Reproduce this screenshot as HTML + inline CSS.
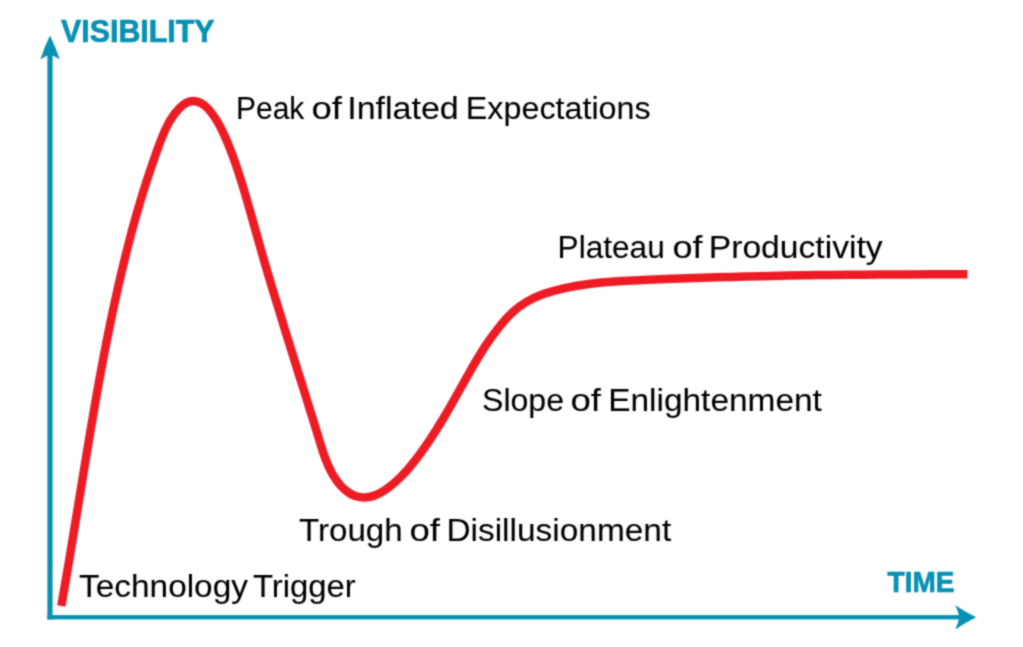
<!DOCTYPE html>
<html lang="en"><head><meta charset="utf-8"><title>Hype Cycle</title>
<style>
html,body{margin:0;padding:0;background:#fff;}
body{width:1023px;height:647px;overflow:hidden;font-family:"Liberation Sans",sans-serif;}
svg{display:block;position:absolute;left:0;top:0;}
.lbl text{font-family:"Liberation Sans",sans-serif;font-size:32.2px;fill:#000;stroke:#000;stroke-width:0.1px;}
.ax text{font-family:"Liberation Sans",sans-serif;font-weight:bold;fill:#0791b3;stroke:#0791b3;stroke-width:0.7px;stroke-linejoin:round;}
</style></head><body>
<svg width="1023" height="647" viewBox="0 0 1023 647">
<defs><filter id="soft" x="-2%" y="-2%" width="104%" height="104%" color-interpolation-filters="sRGB"><feConvolveMatrix order="3" kernelMatrix="1 3 1 3 9 3 1 3 1" edgeMode="duplicate" preserveAlpha="false"/></filter></defs>
<rect width="1023" height="647" fill="#ffffff"/>
<g filter="url(#soft)">
<g fill="#0791b3">
<rect x="47.4" y="54" width="5.2" height="565.4"/>
<rect x="47.4" y="615.1" width="913" height="4.3"/>
<path d="M50 35.4 Q55.7 47 59.8 59.4 Q54.6 56 50 54.8 Q45.4 56 40.3 59.4 Q44.3 47 50 35.4 Z"/>
<path d="M976.2 617.3 Q965.5 612 955.2 605.2 Q958.4 611.5 959.3 617.3 Q958.4 623 955.2 629.4 Q965.5 622.6 976.2 617.3 Z"/>
</g>
<g class="ax">
<text x="61.08" y="42.3" font-size="30.5" textLength="153.44" lengthAdjust="spacingAndGlyphs">VISIBILITY</text>
<text x="887.57" y="592.2" font-size="28.8" textLength="66.91" lengthAdjust="spacingAndGlyphs">TIME</text>
</g>
<path d="M61.3 605.9 C63.0 596.2 64.7 586.5 66.4 576.8 C68.1 567.0 69.7 557.3 71.3 547.6 C72.9 537.8 74.5 528.0 76.1 518.3 C77.7 508.5 79.3 498.7 80.9 488.9 C82.5 479.1 84.1 469.4 85.7 459.6 C87.3 449.9 88.9 440.2 90.5 430.6 C92.1 420.9 93.8 411.3 95.5 401.7 C97.1 392.1 98.9 382.5 100.6 373.0 C102.4 363.5 104.2 354.0 106.0 344.5 C107.9 335.0 109.8 325.6 111.8 316.1 C113.7 306.7 115.8 297.4 117.9 288.0 C120.0 278.7 122.2 269.4 124.5 260.1 C126.7 250.9 129.1 241.7 131.5 232.5 C134.0 223.4 136.5 214.3 139.2 205.3 C141.8 196.3 144.6 187.4 147.5 178.5 C150.4 169.7 153.4 160.9 156.5 152.1 C159.3 144.5 162.0 136.8 165.4 129.5 C167.8 124.2 170.6 119.2 174.2 114.4 C176.8 110.9 179.8 107.4 183.2 104.8 C185.1 103.4 187.1 102.3 189.2 101.7 C191.1 101.2 193.1 101.0 195.0 101.2 C197.0 101.4 199.0 102.0 200.8 103.0 C203.6 104.4 206.1 106.6 208.3 109.0 C212.2 113.2 215.2 117.9 218.0 122.6 C221.6 128.9 224.6 135.5 227.4 142.2 C230.7 150.2 233.7 158.2 236.5 166.4 C239.4 175.0 242.1 183.6 244.7 192.4 C247.4 201.5 250.0 210.8 252.6 220.0 C255.2 229.5 257.9 238.9 260.6 248.3 C263.2 257.6 266.0 267.0 268.7 276.3 C271.5 285.7 274.3 295.0 277.2 304.3 C280.0 313.7 282.9 323.1 285.8 332.5 C288.7 341.9 291.7 351.3 294.6 360.7 C297.6 370.1 300.5 379.6 303.5 389.0 C306.4 398.4 309.4 407.8 312.3 417.3 C315.2 426.6 318.0 436.0 320.9 445.3 C323.1 452.5 325.5 459.6 328.5 466.3 C330.8 471.5 333.5 476.4 336.9 481.0 C339.5 484.6 342.6 488.1 346.2 490.9 C348.9 493.1 352.0 494.8 355.2 495.9 C358.2 496.9 361.3 497.5 364.4 497.5 C367.6 497.5 370.6 496.9 373.7 495.9 C377.8 494.5 381.7 492.4 385.5 489.8 C390.8 486.2 395.7 481.9 400.2 477.5 C405.4 472.4 410.2 466.8 414.6 461.1 C419.8 454.5 424.7 447.6 429.4 440.6 C434.3 433.2 439.0 425.7 443.6 418.0 C448.4 410.0 453.0 401.9 457.5 393.8 C462.2 385.5 466.8 377.1 471.5 368.8 C475.9 361.2 480.4 353.7 485.1 346.4 C489.5 339.7 494.2 333.1 499.3 326.8 C503.5 321.5 508.0 316.4 513.0 311.9 C517.2 308.1 521.7 304.7 526.5 301.9 C531.9 298.8 537.5 296.3 543.4 294.1 C550.4 291.6 557.6 289.7 564.8 288.1 C572.8 286.4 580.8 285.0 588.8 284.0 C597.5 282.9 606.1 282.1 614.8 281.5 C624.2 280.9 633.7 280.5 643.1 280.0 C652.9 279.6 662.7 279.2 672.5 278.8 C682.3 278.4 692.0 278.1 701.8 277.8 C711.6 277.5 721.4 277.2 731.2 276.9 C741.0 276.7 750.9 276.4 760.7 276.2 C770.5 276.0 780.3 275.8 790.1 275.6 C799.9 275.4 809.8 275.3 819.6 275.1 C829.4 275.0 839.3 274.9 849.1 274.8 C859.0 274.7 868.8 274.6 878.7 274.5 C888.5 274.5 898.4 274.4 908.2 274.4 C918.1 274.3 928.0 274.3 937.9 274.3 C947.7 274.2 957.6 274.2 967.5 274.2" fill="none" stroke="#ed1c24" stroke-width="8.5" stroke-linecap="butt" stroke-linejoin="round"/>
<g class="lbl">
<text y="118.6"><tspan x="236.07" textLength="68.29" lengthAdjust="spacingAndGlyphs">Peak</tspan> <tspan x="311.45" textLength="30.56" lengthAdjust="spacingAndGlyphs">of</tspan> <tspan x="347.23" textLength="111.53" lengthAdjust="spacingAndGlyphs">Inflated</tspan> <tspan x="465.84" textLength="184.77" lengthAdjust="spacingAndGlyphs">Expectations</tspan></text>
<text y="257.5"><tspan x="557.61" textLength="107.12" lengthAdjust="spacingAndGlyphs">Plateau</tspan> <tspan x="672.54" textLength="30.12" lengthAdjust="spacingAndGlyphs">of</tspan> <tspan x="708.79" textLength="173.83" lengthAdjust="spacingAndGlyphs">Productivity</tspan></text>
<text y="411.4"><tspan x="482.00" textLength="82.06" lengthAdjust="spacingAndGlyphs">Slope</tspan> <tspan x="570.50" textLength="30.56" lengthAdjust="spacingAndGlyphs">of</tspan> <tspan x="608.18" textLength="213.72" lengthAdjust="spacingAndGlyphs">Enlightenment</tspan></text>
<text y="540.8"><tspan x="298.97" textLength="103.63" lengthAdjust="spacingAndGlyphs">Trough</tspan> <tspan x="409.50" textLength="30.56" lengthAdjust="spacingAndGlyphs">of</tspan> <tspan x="446.43" textLength="224.77" lengthAdjust="spacingAndGlyphs">Disillusionment</tspan></text>
<text y="597.2"><tspan x="79.05" textLength="168.90" lengthAdjust="spacingAndGlyphs">Technology</tspan> <tspan x="252.98" textLength="102.80" lengthAdjust="spacingAndGlyphs">Trigger</tspan></text>
</g>
</g>
</svg>
</body></html>
